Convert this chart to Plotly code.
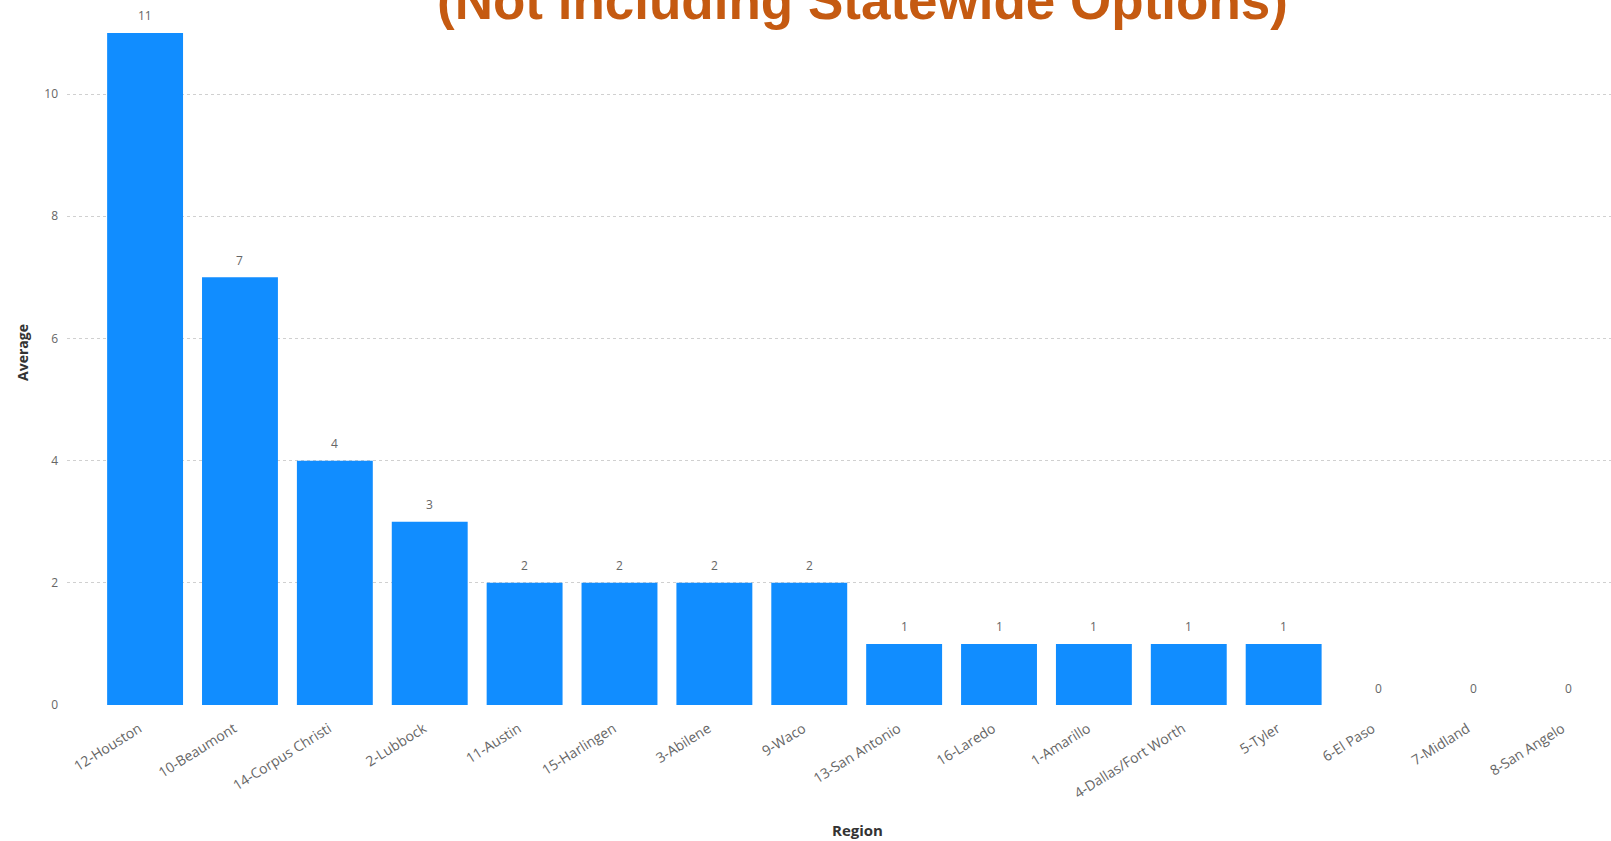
import plotly.graph_objects as go

regions = ["12-Houston", "10-Beaumont", "14-Corpus Christi", "2-Lubbock", "11-Austin",
           "15-Harlingen", "3-Abilene", "9-Waco", "13-San Antonio", "16-Laredo",
           "1-Amarillo", "4-Dallas/Fort Worth", "5-Tyler", "6-El Paso", "7-Midland",
           "8-San Angelo"]
average = [11, 7, 4, 3, 2, 2, 2, 2, 1, 1, 1, 1, 1, 0, 0, 0]
y_ticks = [0, 2, 4, 6, 8, 10]
title_text = "(Not including Statewide Options)"

FONT = "Open Sans, DejaVu Sans, sans-serif"

fig = go.Figure()
fig.add_trace(go.Bar(
    x=list(range(len(regions))), y=average,
    marker=dict(color="#118DFF", line=dict(width=0)),
    width=0.8,
    cliponaxis=False,
))

for i, v in enumerate(average):
    fig.add_annotation(x=i, y=v, text=str(v), showarrow=False, xref="x", yref="y",
                       yshift=17, font=dict(family=FONT, size=12, color="#666666"))

fig.add_annotation(x=0.515, xref="paper", y=1, yref="paper", text="<b>" + title_text + "</b>",
                   showarrow=False, xanchor="center", yanchor="middle",
                   font=dict(family="Liberation Sans, Arial, sans-serif", size=53,
                             color="#C55A11"))

fig.add_annotation(x=0.5117, xref="paper", y=0, yref="paper", yshift=-125,
                   text="<b>Region</b>", showarrow=False, xanchor="center", yanchor="middle",
                   font=dict(family=FONT, size=15, color="#333333"))

fig.update_layout(
    width=1611, height=841,
    margin=dict(l=67, r=0, t=0, b=136, autoexpand=False),
    paper_bgcolor="white", plot_bgcolor="white",
    showlegend=False,
    xaxis=dict(
        range=[-0.823, 15.45],
        tickmode="array", tickvals=list(range(len(regions))), ticktext=regions,
        tickangle=-32, showgrid=False, zeroline=False, showline=False,
        tickfont=dict(family=FONT, size=14, color="#666666"),
        ticklabelstandoff=12, ticklabelshift=-6,
        automargin=False,
    ),
    yaxis=dict(
        range=[0, 11.54], tickvals=y_ticks,
        showgrid=True, gridcolor="#D0D0D0", griddash="dot", gridwidth=1,
        zeroline=False, showline=False,
        tickfont=dict(family=FONT, size=12, color="#666666"),
        ticklabelstandoff=8,
        automargin=False,
        title=dict(text="<b>Average</b>", font=dict(family=FONT, size=14, color="#333333"),
                   standoff=12),
    ),
)
fig.write_html("out.html", config={"displayModeBar": False},
               post_script="document.body.style.margin='0';document.body.style.overflow='hidden';")
